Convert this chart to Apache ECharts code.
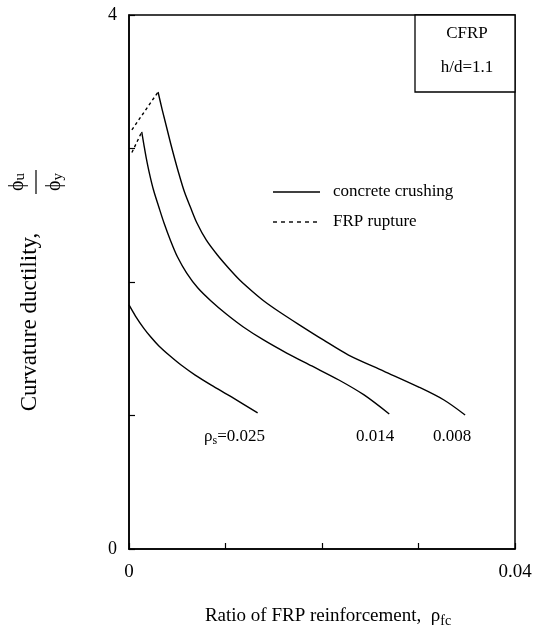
<!DOCTYPE html>
<html>
<head>
<meta charset="utf-8">
<script src="https://cdn.jsdelivr.net/npm/echarts@6/dist/echarts.min.js"></script>
<style>html,body{margin:0;padding:0;background:#fff}#c{width:536px;height:638px}</style>
</head>
<body>
<div id="c"></div>
<script>
// ---- data (x = rho_fc, y = curvature ductility phi_u/phi_y) ----
const rs025_x = [0.0000, 0.00067, 0.00152, 0.00226, 0.00310, 0.00414, 0.00540, 0.00686, 0.00853, 0.01062, 0.01333];
const rs025_y = [1.828, 1.745, 1.655, 1.588, 1.521, 1.453, 1.378, 1.303, 1.228, 1.139, 1.019];
const rs014_x = [0.00132, 0.00155, 0.00177, 0.00211, 0.00254, 0.00309, 0.00363, 0.00428, 0.00503, 0.00598,
                 0.00714, 0.00850, 0.01008, 0.01185, 0.01394, 0.01634, 0.01894, 0.02175, 0.02436, 0.02697];
const rs014_y = [3.124, 3.026, 2.936, 2.816, 2.689, 2.562, 2.442, 2.315, 2.187, 2.067,
                 1.955, 1.858, 1.760, 1.663, 1.566, 1.468, 1.371, 1.266, 1.154, 1.011];
const rs008_x = [0.00301, 0.00345, 0.00389, 0.00433, 0.00477, 0.00521, 0.00575, 0.00640, 0.00704, 0.00800, 0.00916, 0.01031,
                 0.01147, 0.01273, 0.01398, 0.01545, 0.01753, 0.02014, 0.02275, 0.02639, 0.03003, 0.03264, 0.03483];
const rs008_y = [3.423, 3.288, 3.161, 3.034, 2.914, 2.801, 2.674, 2.554, 2.442, 2.315, 2.202, 2.105,
                 2.015, 1.933, 1.858, 1.783, 1.685, 1.566, 1.453, 1.333, 1.213, 1.116, 1.004];
const rup014_x = [0.0003, 0.00132];
const rup014_y = [2.97, 3.124];
const rup008_x = [0.0003, 0.00301];
const rup008_y = [3.14, 3.423];
const xTickLabels = ['0', '0.04'];
const yTickLabels = ['0', '4'];
const rhoLabels = ['0.025', '0.014', '0.008'];
const legendNames = ['concrete crushing', 'FRP rupture'];

const zip = (xs, ys) => xs.map((x, i) => [x, ys[i]]);
const F = 'Liberation Serif, Times New Roman, serif';
const chart = echarts.init(document.getElementById('c'), null, {renderer: 'canvas'});

const solid = (d) => ({type: 'line', name: legendNames[0], data: d, smooth: 0.3, symbol: 'none',
  lineStyle: {color: '#000', width: 1.4}, z: 3});
const dashed = (d) => ({type: 'line', name: legendNames[1], data: d, symbol: 'none',
  lineStyle: {color: '#000', width: 1.4, type: [3, 3]}, z: 3});

chart.setOption({
  animation: false,
  backgroundColor: '#fff',
  textStyle: {fontFamily: F},
  grid: {left: 129, right: 21, top: 15, bottom: 89, show: true, borderColor: '#000', borderWidth: 1.5, backgroundColor: 'transparent'},
  xAxis: {
    type: 'value', min: 0, max: 0.04, interval: 0.01,
    axisLine: {show: true, lineStyle: {color: '#000', width: 1.5}},
    axisTick: {show: true, inside: true, length: 6, lineStyle: {color: '#000', width: 1.2}},
    splitLine: {show: false},
    axisLabel: {margin: 14, fontFamily: F, fontSize: 19, color: '#000', showMinLabel: true, showMaxLabel: true,
      formatter: (v) => v === 0 ? xTickLabels[0] : (Math.abs(v - 0.04) < 1e-9 ? xTickLabels[1] : '')}
  },
  yAxis: {
    type: 'value', min: 0, max: 4, interval: 1,
    axisLine: {show: true, lineStyle: {color: '#000', width: 1.5}},
    axisTick: {show: true, inside: true, length: 6, lineStyle: {color: '#000', width: 1.2}},
    splitLine: {show: false},
    axisLabel: {margin: 12, fontFamily: F, fontSize: 18, color: '#000',
      formatter: (v) => v === 0 ? yTickLabels[0] : (v === 4 ? yTickLabels[1] : '')}
  },
  series: [
    solid(zip(rs025_x, rs025_y)),
    solid(zip(rs014_x, rs014_y)),
    solid(zip(rs008_x, rs008_y)),
    dashed(zip(rup014_x, rup014_y)),
    dashed(zip(rup008_x, rup008_y))
  ],
  graphic: [
    {type: 'rect', shape: {x: 415, y: 15, width: 100, height: 77}, style: {fill: '#fff', stroke: '#000', lineWidth: 1.3}, z: 10},
    {type: 'text', x: 467, y: 34, z: 11, style: {text: 'CFRP', font: '17px ' + F, fill: '#000', align: 'center', verticalAlign: 'middle'}},
    {type: 'text', x: 467, y: 68, z: 11, style: {text: 'h/d=1.1', font: '17px ' + F, fill: '#000', align: 'center', verticalAlign: 'middle'}},
    // legend
    {type: 'line', shape: {x1: 273, y1: 192, x2: 320, y2: 192}, style: {stroke: '#000', lineWidth: 1.4}, z: 11},
    {type: 'text', x: 333, y: 192, z: 11, style: {text: legendNames[0], font: '17px ' + F, fill: '#000', verticalAlign: 'middle'}},
    {type: 'line', shape: {x1: 273, y1: 222, x2: 320, y2: 222}, style: {stroke: '#000', lineWidth: 1.4, lineDash: [4, 4]}, z: 11},
    {type: 'text', x: 333, y: 222, z: 11, style: {text: legendNames[1], font: '17px ' + F, fill: '#000', verticalAlign: 'middle'}},
    // curve labels
    {type: 'text', x: 204, y: 437, z: 11, style: {
      text: '{r|ρ}{s|s}{r|=' + rhoLabels[0] + '}', fill: '#000', verticalAlign: 'middle',
      rich: {r: {fontFamily: F, fontSize: 17, fill: '#000'}, s: {fontFamily: F, fontSize: 12, fill: '#000', padding: [8, 0, 0, 0]}}}},
    {type: 'text', x: 356, y: 437, z: 11, style: {text: rhoLabels[1], font: '17px ' + F, fill: '#000', verticalAlign: 'middle'}},
    {type: 'text', x: 433, y: 437, z: 11, style: {text: rhoLabels[2], font: '17px ' + F, fill: '#000', verticalAlign: 'middle'}},
    // x axis title
    {type: 'text', x: 328, y: 616, z: 11, style: {
      text: '{r|Ratio of FRP reinforcement,  ρ}{s|fc}', align: 'center', verticalAlign: 'middle',
      rich: {r: {fontFamily: F, fontSize: 19, fill: '#000'}, s: {fontFamily: F, fontSize: 14, fill: '#000', padding: [10, 0, 0, 0]}}}},
    // y axis title
    {type: 'text', x: 30, y: 322, rotation: Math.PI / 2, z: 11, style: {
      text: 'Curvature ductility,', font: '23px ' + F, fill: '#000', align: 'center', verticalAlign: 'middle'}},
    {type: 'group', x: 36, y: 182, rotation: Math.PI / 2, z: 11, children: [
      {type: 'text', x: 0, y: -18, style: {text: '{r|ϕ}{s|u}', align: 'center', verticalAlign: 'middle',
        rich: {r: {fontFamily: F, fontSize: 20, fill: '#000'}, s: {fontFamily: F, fontSize: 15, fill: '#000', padding: [4, 0, 0, 0]}}}},
      {type: 'line', shape: {x1: -12, y1: 0, x2: 12, y2: 0}, style: {stroke: '#000', lineWidth: 1.2}},
      {type: 'text', x: 0, y: 19, style: {text: '{r|ϕ}{s|y}', align: 'center', verticalAlign: 'middle',
        rich: {r: {fontFamily: F, fontSize: 20, fill: '#000'}, s: {fontFamily: F, fontSize: 15, fill: '#000', padding: [6, 0, 0, 0]}}}}
    ]}
  ]
});
</script>
</body>
</html>
